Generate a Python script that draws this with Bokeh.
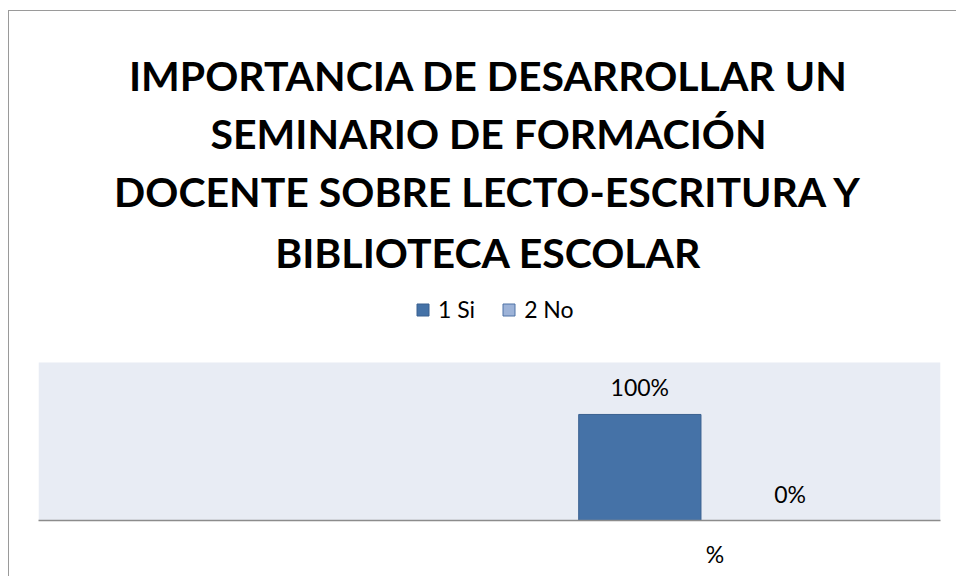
from bokeh.plotting import figure
from bokeh.models import (ColumnDataSource, Range1d, FixedTicker, Legend, LegendItem,
                          LabelSet, Label, BoxAnnotation)
from bokeh.core.properties import value
from bokeh.embed import file_html
from bokeh.resources import INLINE

# ---- data ----
title_lines = ["IMPORTANCIA DE DESARROLLAR UN",
               "SEMINARIO DE FORMACIÓN",
               "DOCENTE SOBRE LECTO-ESCRITURA Y",
               "BIBLIOTECA ESCOLAR"]
categories = ["%"]
series = ["1 Si", "2 No"]
values = [100, 0]
value_labels = ["100%", "0%"]
fill_colors = ["#4572A7", "#9DB3D8"]
line_colors = ["#3A6190", "#4E72A6"]
axis_max = 149

# ---- layout ----
FONT = "Lato"
W, H = 948, 566
MB_LEFT, MB_RIGHT, MB_TOP, MB_BOTTOM = 29, 17, 0, 57
frame_h = H - MB_TOP - MB_BOTTOM          # whole frame (title + legend + plot area)
plot_area_h = 158                          # shaded value area at the bottom of the frame

cat_pos = 0
n = len(series)
xs = [cat_pos + (i - (n - 1) / 2) for i in range(n)]

src = ColumnDataSource(dict(x=xs, value=values, label=value_labels))

p = figure(width=W, height=H, output_backend="svg", toolbar_location=None,
           x_range=Range1d(-4.5, 1.5), y_range=Range1d(0, axis_max * frame_h / plot_area_h),
           min_border_left=MB_LEFT, min_border_right=MB_RIGHT, min_border_top=MB_TOP,
           min_border_bottom=MB_BOTTOM)
p.margin = (10, 0, 0, 8)
p.styles = {"border-left": "1px solid #9a9a9a", "border-top": "1px solid #9a9a9a"}

p.background_fill_color = "white"
p.border_fill_color = "white"
p.outline_line_color = None
p.grid.visible = False
p.yaxis.visible = False

# shaded plot area (value axis 0 .. axis_max)
p.add_layout(BoxAnnotation(bottom=0, top=axis_max, fill_color="#E8ECF4", fill_alpha=1,
                           line_color=None, level="underlay"))

renderers = []
for i, s in enumerate(series):
    view_src = ColumnDataSource(dict(x=[xs[i]], top=[values[i]]))
    r = p.vbar(x="x", top="top", bottom=0, width=122 / 150, source=view_src,
               fill_color=fill_colors[i], line_color=line_colors[i], line_width=1)
    renderers.append(r)

p.xaxis.ticker = FixedTicker(ticks=[cat_pos])
p.xaxis.major_label_overrides = {cat_pos: categories[0]}
p.xaxis.axis_line_color = "#8c8c8c"
p.xaxis.axis_line_width = 1.5
p.xaxis.major_tick_line_color = None
p.xaxis.major_tick_out = 0
p.xaxis.major_tick_in = 0
p.xaxis.minor_tick_line_color = None
p.xaxis.major_label_text_font = FONT
p.xaxis.major_label_text_font_size = "23px"
p.xaxis.major_label_text_color = "black"
p.xaxis.major_label_standoff = 19

labels = LabelSet(x="x", y="value", text="label", source=src, y_offset=18,
                  text_align="center", text_baseline="alphabetic",
                  text_font=value(FONT), text_font_size=value("23px"), text_color=value("black"))
p.add_layout(labels)

legend = Legend(items=[LegendItem(label=s, renderers=[renderers[i]]) for i, s in enumerate(series)],
                location=(377, 197), orientation="horizontal",
                glyph_width=15, glyph_height=15, label_standoff=8, spacing=26,
                padding=0, margin=0, border_line_color=None, background_fill_alpha=0,
                label_text_font=FONT, label_text_font_size="23px", label_text_color="black")
p.add_layout(legend)

baselines = [445, 387, 329, 268]
for t, b in zip(title_lines, baselines):
    p.add_layout(Label(x=450, y=b, x_units="screen", y_units="screen", text=t,
                       text_align="center", text_baseline="alphabetic",
                       text_font=FONT, text_font_style="bold", text_font_size="41px",
                       text_color="black"))

open("out.html", "w").write(file_html(p, INLINE))
